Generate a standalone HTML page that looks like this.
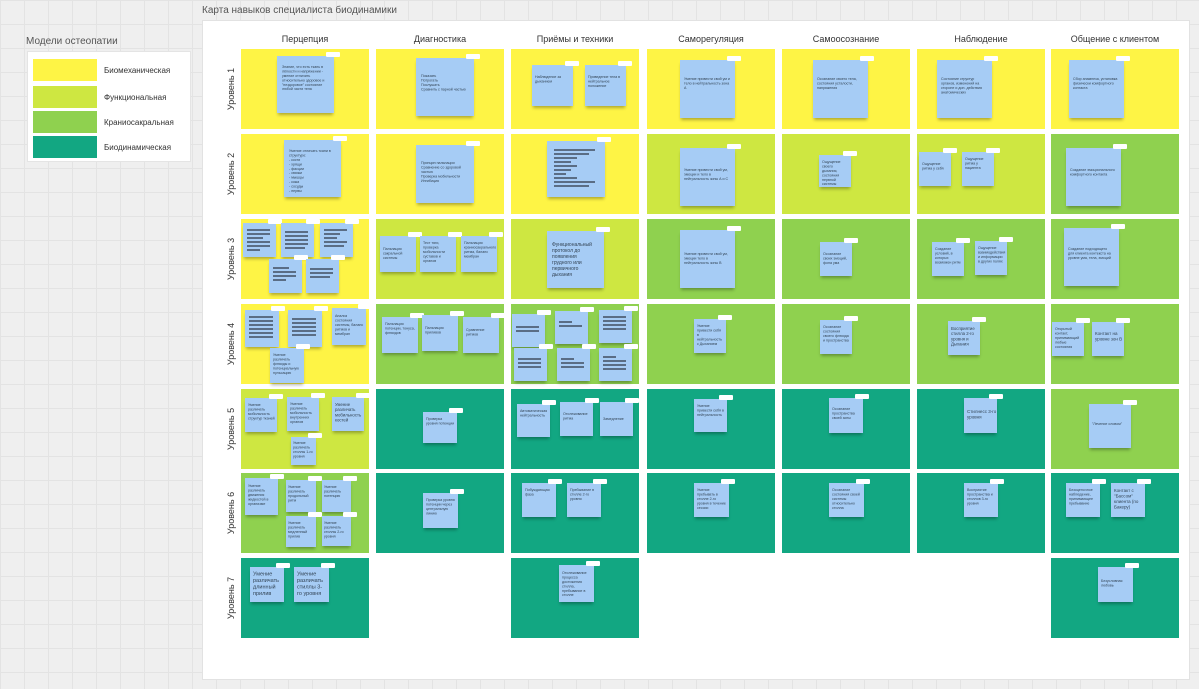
<!DOCTYPE html>
<html><head><meta charset="utf-8"><style>
*{margin:0;padding:0;box-sizing:border-box}
body{width:1199px;height:689px;overflow:hidden;position:relative;font-family:"Liberation Sans","DejaVu Sans",sans-serif;background-color:#efefef;background-image:linear-gradient(#e3e3e3 1px,transparent 1px),linear-gradient(90deg,#e3e3e3 1px,transparent 1px);background-size:24px 24px}
div{position:absolute}
.fr{left:202px;top:20px;width:988px;height:660px;background:#fff;border:1px solid #e2e2e2}
.t{font-size:10px;color:#555;white-space:nowrap}
.h{font-size:9px;color:#333;width:128px;text-align:center;top:34px}
.r{font-size:9px;color:#333;width:80px;text-align:center;transform:rotate(-90deg);left:191px}
.c{width:128px;height:80px}
.y{background:#fef445}.l{background:#cee741}.g{background:#8fd14f}.d{background:#12a782}
.s{background:#a6ccf5;box-shadow:0 3px 3px -1px rgba(0,0,0,.3);font-size:9px;overflow:visible}
.s::after{content:"";position:absolute;right:-6px;top:-4px;width:14px;height:5px;background:#fff;border-radius:1px}
.s span{position:absolute;left:8%;top:15%;width:210%;font-size:9px;line-height:11px;color:#345;transform:scale(.4);transform-origin:0 0}
.s.b i{position:absolute;left:12%;height:1.5px;background:#5a6d85;width:70%}
.lg{left:27px;top:51px;width:164px;height:111px;background:#fff;border:1px solid #e4e4e4}
.sw{left:5px;width:64px;height:22px}
.ll{left:76px;font-size:8px;color:#333}
</style></head><body>
<div class="t" style="left:26px;top:36px">Модели остеопатии</div>
<div class="lg">
<div class="sw y" style="top:7px"></div><div class="ll" style="top:14px">Биомеханическая</div>
<div class="sw l" style="top:34px"></div><div class="ll" style="top:41px">Функциональная</div>
<div class="sw g" style="top:59px"></div><div class="ll" style="top:66px">Краниосакральная</div>
<div class="sw d" style="top:84px"></div><div class="ll" style="top:91px">Биодинамическая</div>
</div>
<div class="t" style="left:202px;top:5px">Карта навыков специалиста биодинамики</div>
<div class="fr"></div>
<div class="h" style="left:241px">Перцепция</div>
<div class="h" style="left:376px">Диагностика</div>
<div class="h" style="left:511px">Приёмы и техники</div>
<div class="h" style="left:647px">Саморегуляция</div>
<div class="h" style="left:782px">Самоосознание</div>
<div class="h" style="left:917px">Наблюдение</div>
<div class="h" style="left:1051px">Общение с клиентом</div>
<div class="r" style="top:84px">Уровень 1</div>
<div class="r" style="top:169px">Уровень 2</div>
<div class="r" style="top:254px">Уровень 3</div>
<div class="r" style="top:339px">Уровень 4</div>
<div class="r" style="top:424px">Уровень 5</div>
<div class="r" style="top:508px">Уровень 6</div>
<div class="r" style="top:593px">Уровень 7</div>

<div class="c y" style="left:241px;top:49px"></div><div class="c y" style="left:376px;top:49px"></div><div class="c y" style="left:511px;top:49px"></div><div class="c y" style="left:647px;top:49px"></div><div class="c y" style="left:782px;top:49px"></div><div class="c y" style="left:917px;top:49px"></div><div class="c y" style="left:1051px;top:49px"></div>
<div class="c y" style="left:241px;top:134px"></div><div class="c y" style="left:376px;top:134px"></div><div class="c y" style="left:511px;top:134px"></div><div class="c l" style="left:647px;top:134px"></div><div class="c l" style="left:782px;top:134px"></div><div class="c l" style="left:917px;top:134px"></div><div class="c g" style="left:1051px;top:134px"></div>
<div class="c y" style="left:241px;top:219px"></div><div class="c l" style="left:376px;top:219px"></div><div class="c l" style="left:511px;top:219px"></div><div class="c g" style="left:647px;top:219px"></div><div class="c g" style="left:782px;top:219px"></div><div class="c g" style="left:917px;top:219px"></div><div class="c g" style="left:1051px;top:219px"></div>
<div class="c y" style="left:241px;top:304px"></div><div class="c g" style="left:376px;top:304px"></div><div class="c d" style="left:511px;top:304px;background:#8fd14f"></div><div class="c g" style="left:647px;top:304px"></div><div class="c g" style="left:782px;top:304px"></div><div class="c g" style="left:917px;top:304px"></div><div class="c g" style="left:1051px;top:304px"></div>
<div class="c l" style="left:241px;top:389px"></div><div class="c d" style="left:376px;top:389px"></div><div class="c d" style="left:511px;top:389px"></div><div class="c d" style="left:647px;top:389px"></div><div class="c d" style="left:782px;top:389px"></div><div class="c d" style="left:917px;top:389px"></div><div class="c g" style="left:1051px;top:389px"></div>
<div class="c g" style="left:241px;top:473px"></div><div class="c d" style="left:376px;top:473px"></div><div class="c d" style="left:511px;top:473px"></div><div class="c d" style="left:647px;top:473px"></div><div class="c d" style="left:782px;top:473px"></div><div class="c d" style="left:917px;top:473px"></div><div class="c d" style="left:1051px;top:473px"></div>
<div class="c d" style="left:241px;top:558px"></div><div class="c d" style="left:511px;top:558px"></div><div class="c d" style="left:1051px;top:558px"></div>

<!-- row1 -->
<div class="s" style="left:277px;top:56px;width:57px;height:57px"><span>Знание, что есть ткань в лёгкости и напряжении - умение отличить относительно здоровое и "нездоровое" состояние любой части тела</span></div>
<div class="s" style="left:416px;top:58px;width:58px;height:58px"><span style="top:28%">Показать<br>Потрогать<br>Послушать<br>Сравнить с парной частью</span></div>
<div class="s" style="left:532px;top:65px;width:41px;height:41px"><span style="top:25%">Наблюдение за дыханием</span></div>
<div class="s" style="left:585px;top:65px;width:41px;height:41px"><span style="top:25%">Приведение тела в нейтральное положение</span></div>
<div class="s" style="left:680px;top:60px;width:55px;height:58px"><span style="top:30%">Умение привести свой ум и тело в нейтральность зона А</span></div>
<div class="s" style="left:813px;top:60px;width:55px;height:58px"><span style="top:30%">Осознание своего тела, состояния усталости, напряжения</span></div>
<div class="s" style="left:937px;top:60px;width:55px;height:58px"><span style="top:30%">Состояние структур органов, изменений на стороне и доп. действия анатомических</span></div>
<div class="s" style="left:1069px;top:60px;width:55px;height:58px"><span style="top:30%">Сбор анамнеза, установка физически комфортного контакта</span></div>
<!-- row2 -->
<div class="s" style="left:284px;top:140px;width:57px;height:57px"><span>Умение отличать ткани в структуре:<br>- кости<br>- хрящи<br>- фасции<br>- связки<br>- мышцы<br>- кожа<br>- сосуды<br>- нервы</span></div>
<div class="s" style="left:416px;top:145px;width:58px;height:58px"><span style="top:28%">Принцип пальпации<br>Сравнение со здоровой частью<br>Проверка мобильности<br>Ингибиция</span></div>
<div class="s b" style="left:547px;top:141px;width:58px;height:56px"><i style="top:8px"></i><i style="top:12px;width:60%"></i><i style="top:16px;width:40%"></i><i style="top:20px;width:30%"></i><i style="top:24px;width:40%"></i><i style="top:28px;width:30%"></i><i style="top:32px;width:20%"></i><i style="top:36px;width:40%"></i><i style="top:40px;width:70%"></i><i style="top:44px;width:60%"></i></div>
<div class="s" style="left:680px;top:148px;width:55px;height:58px"><span style="top:35%">Умение привести свой ум, эмоции и тело в нейтральность зоны А и С</span></div>
<div class="s" style="left:819px;top:155px;width:32px;height:32px"><span>Ощущение своего дыхания, состояния нервной системы</span></div>
<div class="s" style="left:919px;top:152px;width:32px;height:34px"><span style="top:30%">Ощущение ритма у себя</span></div>
<div class="s" style="left:962px;top:152px;width:32px;height:34px"><span>Ощущение ритма у пациента</span></div>
<div class="s" style="left:1066px;top:148px;width:55px;height:58px"><span style="top:35%">Создание эмоционального комфортного контакта</span></div>
<!-- row3 -->
<div class="s b" style="left:243px;top:223px;width:33px;height:34px"><i style="top:6px"></i><i style="top:10px"></i><i style="top:14px;width:50%"></i><i style="top:18px"></i><i style="top:22px"></i><i style="top:26px;width:40%"></i></div>
<div class="s b" style="left:281px;top:223px;width:33px;height:34px"><i style="top:8px"></i><i style="top:12px"></i><i style="top:16px"></i><i style="top:20px"></i><i style="top:24px;width:60%"></i></div>
<div class="s b" style="left:320px;top:223px;width:33px;height:34px"><i style="top:6px"></i><i style="top:10px;width:50%"></i><i style="top:14px;width:40%"></i><i style="top:18px"></i><i style="top:22px;width:60%"></i></div>
<div class="s b" style="left:269px;top:259px;width:33px;height:34px"><i style="top:8px;width:50%"></i><i style="top:12px"></i><i style="top:16px"></i><i style="top:20px;width:40%"></i></div>
<div class="s b" style="left:306px;top:259px;width:33px;height:34px"><i style="top:9px"></i><i style="top:13px"></i><i style="top:17px;width:60%"></i></div>
<div class="s" style="left:380px;top:236px;width:36px;height:36px"><span style="top:30%">Пальпация сакральной системы</span></div>
<div class="s" style="left:420px;top:236px;width:36px;height:36px"><span>Тест тяги, проверка мобильности суставов и органов</span></div>
<div class="s" style="left:461px;top:236px;width:36px;height:36px"><span>Пальпация краниосакрального ритма, баланс мембран</span></div>
<div class="s" style="left:547px;top:231px;width:57px;height:57px"><span style="top:20%;width:160%;font-size:10px;line-height:12px;transform:scale(.5)">Функциональный протокол до появления грудного или первичного дыхания</span></div>
<div class="s" style="left:680px;top:230px;width:55px;height:58px"><span style="top:38%">Умение привести свой ум, эмоции тело в нейтральность зоны В</span></div>
<div class="s" style="left:820px;top:242px;width:32px;height:34px"><span style="top:30%">Осознание своих эмоций, фона ума</span></div>
<div class="s" style="left:932px;top:242px;width:32px;height:34px"><span>Создание условий, в которых возможен ритм</span></div>
<div class="s" style="left:975px;top:241px;width:32px;height:34px"><span>Ощущение взаимодействия и информации в других полях</span></div>
<div class="s" style="left:1064px;top:228px;width:55px;height:58px"><span style="top:33%">Создание подходящего для клиента контекста на уровне ума, тела, эмоций</span></div>
<!-- row4 -->
<div class="s b" style="left:245px;top:310px;width:34px;height:37px"><i style="top:6px"></i><i style="top:10px"></i><i style="top:14px"></i><i style="top:18px"></i><i style="top:22px"></i><i style="top:26px"></i></div>
<div class="s b" style="left:288px;top:310px;width:34px;height:37px"><i style="top:8px"></i><i style="top:12px"></i><i style="top:16px"></i><i style="top:20px"></i><i style="top:24px"></i></div>
<div class="s" style="left:332px;top:308px;width:34px;height:37px"><span>Анализ состояния системы, баланс ритмов и мембран</span></div>
<div class="s" style="left:270px;top:348px;width:34px;height:35px"><span>Умение различать флюиды и потенциальную пульсацию</span></div>
<div class="s" style="left:382px;top:317px;width:36px;height:36px"><span>Пальпация потенции, тонуса, флюидов</span></div>
<div class="s" style="left:422px;top:315px;width:36px;height:36px"><span style="top:30%">Пальпация приливов</span></div>
<div class="s" style="left:463px;top:317px;width:36px;height:36px"><span style="top:30%">Сравнение ритмов</span></div>
<div class="s b" style="left:512px;top:314px;width:33px;height:33px"><i style="top:12px"></i><i style="top:16px"></i></div>
<div class="s b" style="left:555px;top:311px;width:33px;height:33px"><i style="top:10px;width:40%"></i><i style="top:14px"></i></div>
<div class="s b" style="left:599px;top:310px;width:33px;height:33px"><i style="top:6px"></i><i style="top:10px"></i><i style="top:14px"></i><i style="top:18px"></i></div>
<div class="s b" style="left:514px;top:348px;width:33px;height:33px"><i style="top:10px"></i><i style="top:14px"></i><i style="top:18px"></i></div>
<div class="s b" style="left:557px;top:348px;width:33px;height:33px"><i style="top:10px;width:40%"></i><i style="top:14px"></i><i style="top:18px"></i></div>
<div class="s b" style="left:599px;top:348px;width:33px;height:33px"><i style="top:8px;width:40%"></i><i style="top:12px"></i><i style="top:16px"></i><i style="top:20px"></i></div>
<div class="s" style="left:694px;top:319px;width:32px;height:34px"><span>Умение привести себя в нейтральность с Дыханием</span></div>
<div class="s" style="left:820px;top:320px;width:32px;height:34px"><span>Осознание состояния своего флюида и пространства</span></div>
<div class="s" style="left:948px;top:321px;width:32px;height:34px"><span style="width:180%;transform:scale(.48)">Восприятие стилла 2-го уровня и Дыхания</span></div>
<div class="s" style="left:1052px;top:322px;width:32px;height:34px"><span>Открытый контакт, принимающий любые состояния</span></div>
<div class="s" style="left:1092px;top:322px;width:32px;height:34px"><span style="top:25%;width:170%;transform:scale(.5)">Контакт на уровне зон В</span></div>
<!-- row5 -->
<div class="s" style="left:245px;top:398px;width:32px;height:34px"><span>Умение различать мобильность структур тканей</span></div>
<div class="s" style="left:287px;top:397px;width:32px;height:34px"><span>Умение различать мобильность внутренних органов</span></div>
<div class="s" style="left:332px;top:397px;width:32px;height:34px"><span style="width:180%;transform:scale(.48)">Умение различать мобильность костей</span></div>
<div class="s" style="left:291px;top:437px;width:25px;height:28px"><span>Умение различать стиллы 1-го уровня</span></div>
<div class="s" style="left:423px;top:412px;width:34px;height:31px"><span>Проверка уровня потенции</span></div>
<div class="s" style="left:517px;top:404px;width:33px;height:33px"><span>Автоматическая нейтральность</span></div>
<div class="s" style="left:560px;top:402px;width:33px;height:34px"><span style="top:30%">Отслеживание ритма</span></div>
<div class="s" style="left:600px;top:402px;width:33px;height:34px"><span style="top:45%">Замедление</span></div>
<div class="s" style="left:694px;top:399px;width:33px;height:33px"><span>Умение привести себя в нейтральность</span></div>
<div class="s" style="left:829px;top:398px;width:34px;height:35px"><span style="top:25%">Осознание пространства своей зоны</span></div>
<div class="s" style="left:964px;top:398px;width:33px;height:35px"><span style="top:30%;width:180%;transform:scale(.5)">Стилнесс 3-го уровня</span></div>
<div class="s" style="left:1089px;top:404px;width:42px;height:44px"><span style="top:40%">"Лечение словом"</span></div>
<!-- row6 -->
<div class="s" style="left:245px;top:478px;width:33px;height:37px"><span>Умение различать движения жидкостей в организме</span></div>
<div class="s" style="left:286px;top:480px;width:30px;height:32px"><span>Умение различать продольный ритм</span></div>
<div class="s" style="left:322px;top:480px;width:29px;height:32px"><span>Умение различать потенцию</span></div>
<div class="s" style="left:286px;top:516px;width:30px;height:31px"><span>Умение различать медленный прилив</span></div>
<div class="s" style="left:322px;top:516px;width:29px;height:30px"><span>Умение различать стиллы 2-го уровня</span></div>
<div class="s" style="left:423px;top:493px;width:35px;height:35px"><span>Проверка уровня потенции через центральную линию</span></div>
<div class="s" style="left:522px;top:483px;width:34px;height:34px"><span>Побуждающая фаза</span></div>
<div class="s" style="left:567px;top:483px;width:34px;height:34px"><span>Пребывание в стилле 2-го уровня</span></div>
<div class="s" style="left:694px;top:483px;width:35px;height:34px"><span>Умение пребывать в стилле 2-го уровня в течение сессии</span></div>
<div class="s" style="left:829px;top:483px;width:35px;height:34px"><span>Осознание состояния своей системы относительно стилла</span></div>
<div class="s" style="left:964px;top:483px;width:34px;height:34px"><span>Восприятие пространства и стиллов 3-го уровня</span></div>
<div class="s" style="left:1066px;top:483px;width:34px;height:34px"><span>Безоценочное наблюдение, принимающее пребывание</span></div>
<div class="s" style="left:1111px;top:483px;width:34px;height:34px"><span style="width:180%;transform:scale(.5)">Контакт с "Бассом" клиента (по Бакеру)</span></div>
<!-- row7 -->
<div class="s" style="left:250px;top:567px;width:34px;height:35px"><span style="top:12%;width:150%;font-size:10px;line-height:12px;transform:scale(.55)">Умение различать длинный прилив</span></div>
<div class="s" style="left:294px;top:567px;width:35px;height:35px"><span style="top:12%;width:150%;font-size:10px;line-height:12px;transform:scale(.55)">Умение различать стиллы 3-го уровня</span></div>
<div class="s" style="left:559px;top:565px;width:35px;height:37px"><span>Отслеживание процесса достижения стилла, пребывание в стилле</span></div>
<div class="s" style="left:1098px;top:567px;width:35px;height:35px"><span style="top:35%">Безусловная любовь</span></div>
</body></html>
